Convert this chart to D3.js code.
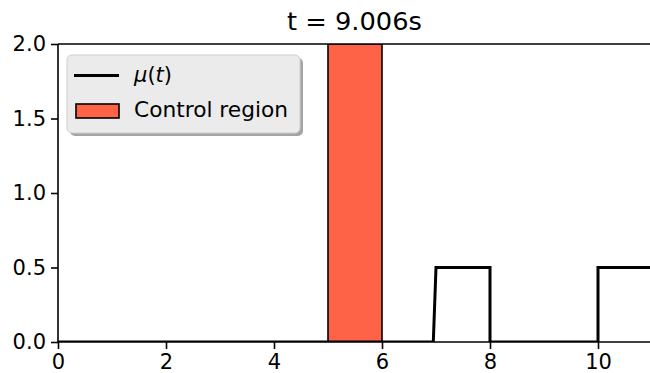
<!DOCTYPE html>
<html>
<head>
<meta charset="utf-8">
<script src="https://cdn.jsdelivr.net/npm/d3@7"></script>
<style>
  html, body { margin: 0; padding: 0; background: #fff; }
  svg { display: block; font-family: "DejaVu Sans", sans-serif; }
</style>
</head>
<body>
<svg id="chart" width="650" height="373"></svg>
<script>
// ---- data ----
const titleText = "t = 9.006s";
const muT = [0, 6.95, 7.0, 8.0, 8.0, 10.0, 10.0, 11.0];
const muValues = [0, 0, 0.5, 0.5, 0, 0, 0.5, 0.5];
const controlStart = [5];
const controlEnd = [6];
const controlHeight = [2.0];
const xTicks = [0, 2, 4, 6, 8, 10];
const yTicks = [0.0, 0.5, 1.0, 1.5, 2.0];
const legendLabels = ["μ(t)", "Control region"];

// ---- layout ----
const svg = d3.select("#chart");
const L = 58, R = 652, T = 44, B = 342;
const x = d3.scaleLinear().domain([0, 11]).range([L, R]);
const y = d3.scaleLinear().domain([0, 2]).range([B, T]);

svg.append("defs").append("clipPath").attr("id", "clip")
  .append("rect").attr("x", L).attr("y", T).attr("width", R - L).attr("height", B - T);

const plot = svg.append("g").attr("clip-path", "url(#clip)");

// control region bars
plot.selectAll("rect.ctrl").data(controlStart).enter().append("rect")
  .attr("class", "ctrl")
  .attr("x", (d) => x(d))
  .attr("width", (d, i) => x(controlEnd[i]) - x(d))
  .attr("y", (d, i) => y(controlHeight[i]))
  .attr("height", (d, i) => y(0) - y(controlHeight[i]))
  .attr("fill", "#ff6347")
  .attr("stroke", "#000")
  .attr("stroke-width", 1.6);

// mu line
const line = d3.line().x((d, i) => x(muT[i])).y((d) => y(d));
plot.append("path").datum(muValues)
  .attr("d", line)
  .attr("fill", "none")
  .attr("stroke", "#000")
  .attr("stroke-width", 3)
  .attr("stroke-linejoin", "miter");

// axes
const xAxis = d3.axisBottom(x).tickValues(xTicks).tickFormat(d3.format("d"))
  .tickSize(7).tickPadding(5);
const yAxis = d3.axisLeft(y).tickValues(yTicks).tickFormat(d3.format(".1f"))
  .tickSize(7).tickPadding(5);

const gx = svg.append("g").attr("transform", `translate(0,${B})`).call(xAxis);
const gy = svg.append("g").attr("transform", `translate(${L},0)`).call(yAxis);
[gx, gy].forEach(g => {
  g.select(".domain").remove();
  g.selectAll(".tick line").attr("stroke", "#000").attr("stroke-width", 1.6);
  g.selectAll(".tick text").attr("fill", "#000").style("font-size", "21px")
    .style("font-family", "DejaVu Sans, sans-serif");
});

// spines
const spines = svg.append("g").attr("stroke", "#000").attr("stroke-width", 1.6).attr("fill", "none");
spines.append("line").attr("x1", L).attr("x2", L).attr("y1", T).attr("y2", B);
spines.append("line").attr("x1", L).attr("x2", R).attr("y1", B).attr("y2", B);
spines.append("line").attr("x1", L).attr("x2", R).attr("y1", T).attr("y2", T);
spines.append("line").attr("x1", R).attr("x2", R).attr("y1", T).attr("y2", B);

// title
svg.append("text").attr("x", 354.5).attr("y", 30)
  .attr("text-anchor", "middle").style("font-size", "25px").attr("fill", "#000")
  .attr("textLength", 135).attr("lengthAdjust", "spacingAndGlyphs")
  .text(titleText);

// legend
const lg = svg.append("g");
const lx = 67, ly = 55, lw = 233, lh = 78;
lg.append("rect").attr("x", lx + 3).attr("y", ly + 3).attr("width", lw).attr("height", lh)
  .attr("rx", 5).attr("fill", "#9a9a9a").attr("opacity", 0.9);
lg.append("rect").attr("x", lx).attr("y", ly).attr("width", lw).attr("height", lh)
  .attr("rx", 5).attr("fill", "#ebebeb").attr("stroke", "#cfcfcf").attr("stroke-width", 1);
lg.append("line").attr("x1", 74).attr("x2", 119).attr("y1", 75.5).attr("y2", 75.5)
  .attr("stroke", "#000").attr("stroke-width", 3);
lg.append("rect").attr("x", 76).attr("y", 104).attr("width", 43).attr("height", 14)
  .attr("fill", "#ff6347").attr("stroke", "#000").attr("stroke-width", 1.6);
const t1 = lg.append("text").attr("x", 134).attr("y", 82).style("font-size", "21px").attr("fill", "#000");
t1.append("tspan").style("font-style", "italic").text("μ");
t1.append("tspan").text("(");
t1.append("tspan").style("font-style", "italic").text("t");
t1.append("tspan").text(")");
lg.append("text").attr("x", 134).attr("y", 117).style("font-size", "21px").attr("fill", "#000")
  .attr("textLength", 154).attr("lengthAdjust", "spacingAndGlyphs")
  .text(legendLabels[1]);
</script>
</body>
</html>
